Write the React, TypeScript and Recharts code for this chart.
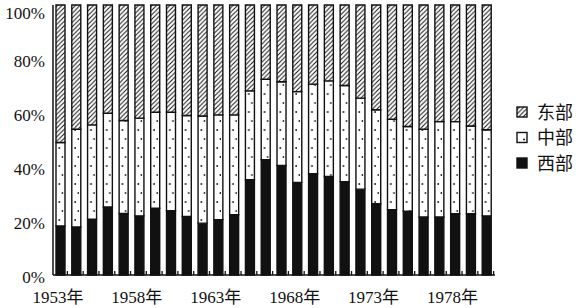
import React from 'react';
import { BarChart, Bar, XAxis, YAxis } from 'recharts';

const years = ['1953','1954','1955','1956','1957','1958','1959','1960','1961','1962','1963','1964','1965','1966','1967','1968','1969','1970','1971','1972','1973','1974','1975','1976','1977','1978','1979','1980'];
const west = [18.2,17.8,20.7,25.2,22.8,21.9,24.7,23.8,21.7,19.2,20.5,22.3,35.3,42.7,40.6,34.3,37.5,36.5,34.6,31.8,26.4,24.2,23.6,21.5,21.5,22.7,22.7,21.9];
const middle = [30.9,36.2,34.9,34.7,34.4,36.2,35.6,36.5,37.4,39.7,38.8,37.0,32.9,29.8,31.0,33.6,33.2,35.4,35.6,33.7,34.8,33.5,31.4,32.5,35.3,34.1,32.5,31.9];
const east = [50.9,46.0,44.4,40.1,42.8,41.9,39.7,39.7,40.9,41.1,40.7,40.7,31.8,27.5,28.4,32.1,29.3,28.1,29.8,34.5,38.8,42.3,45.0,46.0,43.2,43.2,44.8,46.2];
const yTicks = [0, 20, 40, 60, 80, 100];
const labelYears = ['1953', '1958', '1963', '1968', '1973', '1978'];
const seriesNames = { west: '西部', middle: '中部', east: '东部' };

const data = years.map((y, i) => ({ year: y, west: west[i], middle: middle[i], east: east[i] }));

const FONT = "'Liberation Serif', 'Times New Roman', 'DejaVu Serif', 'Noto Sans CJK SC', serif";
const W = 581;
const H = 308;
const MARGIN = { top: 5, right: 86, bottom: 0, left: 8 };
const Y_WIDTH = 45;
const BAND = (W - MARGIN.left - MARGIN.right - Y_WIDTH) / years.length;
const BAR = 9;

const XTick = (props: any) => {
  const { x, y, payload } = props;
  const show = labelYears.includes(payload.value);
  return (
    <g>
      <line x1={x + BAR / 2 + 2} x2={x + BAR / 2 + 2} y1={y} y2={y - 4} stroke="#111" strokeWidth={1.3} />
      {show && (
        <text x={x - 3} y={y + 28} textAnchor="middle" fontSize={17} fontFamily={FONT} fill="#111">
          {payload.value}年
        </text>
      )}
    </g>
  );
};

const YTick = (props: any) => {
  const { x, y, payload } = props;
  const extra = payload.value === 100 ? 4 : 2;
  return (
    <text x={x - 8} y={y + extra} dy="0.35em" textAnchor="end" fontSize={17} fontFamily={FONT} fill="#111">
      {payload.value}%
    </text>
  );
};

const LegendBox = () => {
  const items = [
    { name: seriesNames.east, fill: 'url(#hatch)' },
    { name: seriesNames.middle, fill: '#fff', dot: true },
    { name: seriesNames.west, fill: '#111' },
  ];
  return (
    <svg width={70} height={80} style={{ position: 'absolute', left: 516, top: 106, overflow: 'visible' }}>
      {items.map((it, i) => (
        <g key={it.name} transform={`translate(0, ${i * 25.5})`}>
          <rect x={1} y={1} width={10} height={10} fill={it.fill} stroke="#111" strokeWidth={1.4} />
          {it.dot && <circle cx={8} cy={8} r={1} fill="#111" />}
          <text x={21} y={6} dy="0.38em" fontSize={18} fontFamily={FONT} fill="#111">
            {it.name}
          </text>
        </g>
      ))}
    </svg>
  );
};

export default function App() {
  return (
    <div style={{ position: 'absolute', left: 0, top: 0, width: W, height: H, background: '#fff' }}>
      <BarChart width={W} height={H} data={data} margin={MARGIN} barCategoryGap={0} barSize={BAR}>
        <defs>
          <pattern id="hatch" patternUnits="userSpaceOnUse" width={4.5} height={4.5}>
            <rect width={4.5} height={4.5} fill="#fff" />
            <path d="M-1,1 l2,-2 M0,4.5 l4.5,-4.5 M3.5,5.5 l2,-2" stroke="#111" strokeWidth={1} />
          </pattern>
          <pattern id="dots" patternUnits="userSpaceOnUse" width={BAND} height={18}>
            <rect width={BAND} height={18} fill="#fff" />
            <circle cx={12} cy={4} r={0.9} fill="#111" />
            <circle cx={15.2} cy={13} r={0.9} fill="#111" />
          </pattern>
        </defs>
        <XAxis
          dataKey="year"
          interval={0}
          tickSize={0}
          tickMargin={0}
          height={33}
          tickLine={false}
          axisLine={{ stroke: '#111', strokeWidth: 1.5 }}
          tick={<XTick />}
        />
        <YAxis
          domain={[0, 100]}
          ticks={yTicks}
          width={Y_WIDTH}
          tickSize={0}
          tickMargin={0}
          tickLine={false}
          axisLine={{ stroke: '#111', strokeWidth: 1.5 }}
          tick={<YTick />}
        />
        <Bar dataKey="west" name={seriesNames.west} stackId="a" fill="#111" stroke="#111" strokeWidth={1.4} isAnimationActive={false} />
        <Bar dataKey="middle" name={seriesNames.middle} stackId="a" fill="url(#dots)" stroke="#111" strokeWidth={1.4} isAnimationActive={false} />
        <Bar dataKey="east" name={seriesNames.east} stackId="a" fill="url(#hatch)" stroke="#111" strokeWidth={1.4} isAnimationActive={false} />
      </BarChart>
      <LegendBox />
    </div>
  );
}
